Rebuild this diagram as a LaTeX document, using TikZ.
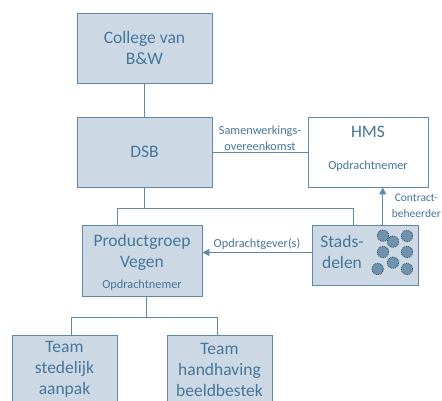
\documentclass[tikz,border=0pt]{standalone}
\usepackage{fontspec}
\setmainfont{Carlito}
\usetikzlibrary{arrows.meta}
\definecolor{boxfill}{HTML}{CCD9E5}
\definecolor{boxline}{HTML}{5F89AA}
\definecolor{boxtext}{HTML}{46759A}
\definecolor{dotfill}{HTML}{6F92AD}
\definecolor{dotline}{HTML}{2C4A60}
\tikzset{
  unit/.style = {draw=boxline, fill=boxfill, line width=0.9pt, text=boxtext,
                 align=center, inner sep=0pt, font=\fontsize{17.5}{21}\selectfont},
  small/.style = {text=boxtext, font=\fontsize{12.3}{15.5}\selectfont, align=center},
  link/.style = {draw=boxline, line width=0.9pt},
  arr/.style = {link, -{Triangle[width=7pt,length=7pt]}},
}
\begin{document}
\begin{tikzpicture}[x = 1pt, y = -1pt]
\useasboundingbox (0,0) rectangle (442,401);
\clip (0,0) rectangle (442,401);
\node [unit, minimum width = 135pt, minimum height = 70pt] (college) at (144.5,48) {College van\\B\&W};
\node [unit, minimum width = 135pt, minimum height = 70pt] (dsb) at (144.5,152) {DSB};
\node [unit, fill = white, minimum width = 120pt, minimum height = 70pt] (hms) at (368,152) {};
\node [text = boxtext, font = \fontsize{17.5}{21}\selectfont] at (368,131.5) {HMS};
\node [small] at (368,166) {Opdrachtnemer};
\node [unit, minimum width = 120pt, minimum height = 70.6pt] (prod) at (142,261) {};
\node [unit, draw = none, fill = none] at (142,252) {Productgroep\\Vegen};
\node [small] at (142,285.5) {Opdrachtnemer};
\node [unit, minimum width = 106pt, minimum height = 59.6pt] (stad) at (365,255.5) {};
\node [unit, draw = none, fill = none] at (342,251.5) {Stads-\\delen};
\node [unit, minimum width = 105pt, minimum height = 90pt, anchor = north] (team1) at (64.5,335) {};
\node [unit, draw = none, fill = none] at (64.5,369.5) {Team\\stedelijk\\aanpak};
\node [unit, minimum width = 105pt, minimum height = 90pt, anchor = north] (team2) at (219.5,335) {};
\node [unit, draw = none, fill = none] at (219.5,369.5) {Team\\handhaving\\beeldbestek};
% dots of the stadsdelen
\foreach \px/\py in {383/235.7, 393/241.7, 407/236, 383/252, 407/252, 393/262.7, 377.7/269, 407/269}
  \draw [dotline, densely dotted, line width = 0.8pt, fill = dotfill] (\px,\py) circle (5.7pt);
% connectors
\draw [link] (college) -- (dsb);
\draw [link] (dsb) -- (hms) node [small, midway, above, inner sep = 1pt] {Samenwerkings-\\overeenkomst};
\draw [link] (dsb.south) -- ++(0,22);
\draw [link] ([xshift = -25pt]prod.north) -- ++(0,-16.7) -| ([xshift = -12pt]stad.north);
\draw [arr] ([yshift = 3pt]stad.west) -- ([yshift = 3pt]stad.west -| prod.east) node [small, midway, above, inner sep = 2pt] {Opdrachtgever(s)};
\draw [arr] ([xshift = 17.7pt]stad.north) -- ([xshift = 17.7pt]stad.north |- hms.south);
\node [small, font = \fontsize{11.5}{15.5}\selectfont, anchor = east, inner sep = 0pt] at (441,206) {Contract-\\beheerder};
\draw [link] ([xshift = 4.7pt]prod.south) -- ++(0,21.4);
\draw [link] ([xshift = 6.8pt]team1.north) |- ([xshift = -2.2pt]team2.north |- 0,317.7) -- ([xshift = -2.2pt]team2.north);
\end{tikzpicture}
\end{document}
